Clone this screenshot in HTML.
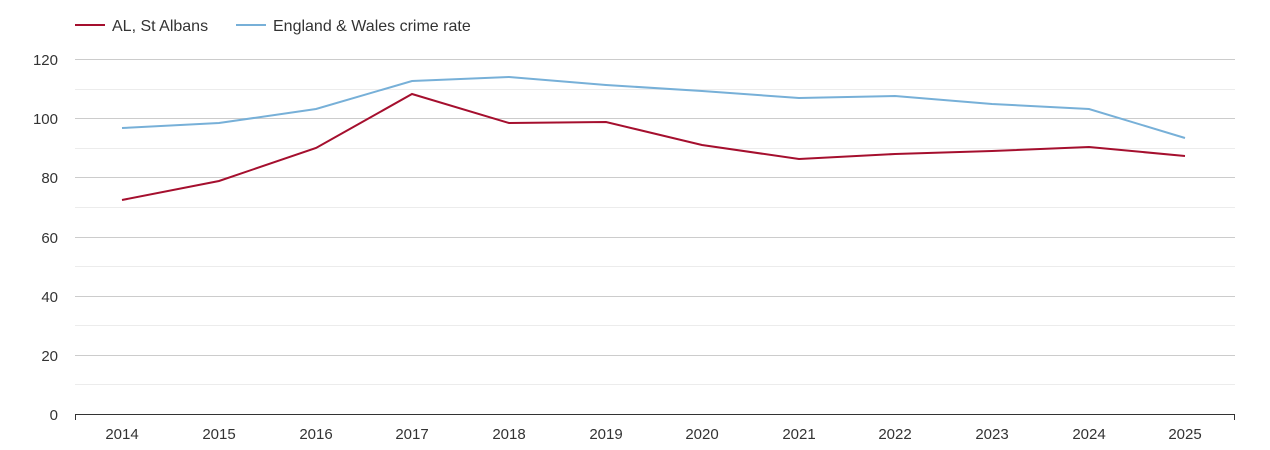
<!DOCTYPE html>
<html><head><meta charset="utf-8"><style>body{margin:0;background:#fff}svg{display:block;font-family:"Liberation Sans",sans-serif}</style></head><body>
<svg width="1270" height="450" viewBox="0 0 1270 450">
<g stroke="#ececec" stroke-width="1">
<line x1="75" x2="1235" y1="89.5" y2="89.5"/><line x1="75" x2="1235" y1="148.5" y2="148.5"/><line x1="75" x2="1235" y1="207.5" y2="207.5"/><line x1="75" x2="1235" y1="266.5" y2="266.5"/><line x1="75" x2="1235" y1="325.5" y2="325.5"/><line x1="75" x2="1235" y1="384.5" y2="384.5"/>
</g>
<g stroke="#cccccc" stroke-width="1">
<line x1="75" x2="1235" y1="59.5" y2="59.5"/><line x1="75" x2="1235" y1="118.5" y2="118.5"/><line x1="75" x2="1235" y1="177.5" y2="177.5"/><line x1="75" x2="1235" y1="237.5" y2="237.5"/><line x1="75" x2="1235" y1="296.5" y2="296.5"/><line x1="75" x2="1235" y1="355.5" y2="355.5"/>
</g>
<line x1="75" x2="1235" y1="414.5" y2="414.5" stroke="#333"/>
<g stroke="#333"><line x1="75.5" x2="75.5" y1="414" y2="420"/><line x1="1234.5" x2="1234.5" y1="414" y2="420"/></g>
<g font-size="15" fill="#333" text-anchor="end">
<text x="58" y="65">120</text><text x="58" y="124">100</text><text x="58" y="183">80</text><text x="58" y="243">60</text><text x="58" y="302">40</text><text x="58" y="361">20</text><text x="58" y="420">0</text>
</g>
<g font-size="15" fill="#333" text-anchor="middle">
<text x="122" y="439">2014</text><text x="219" y="439">2015</text><text x="316" y="439">2016</text><text x="412" y="439">2017</text><text x="509" y="439">2018</text><text x="606" y="439">2019</text><text x="702" y="439">2020</text><text x="799" y="439">2021</text><text x="895" y="439">2022</text><text x="992" y="439">2023</text><text x="1089" y="439">2024</text><text x="1185" y="439">2025</text>
</g>
<polyline fill="none" stroke="#77b0d8" stroke-width="2" points="122,128 219,123 316,109 412,81 509,77 606,85 702,91 799,98 895,96 992,104 1089,109 1185,138"/>
<polyline fill="none" stroke="#a50f2e" stroke-width="2" points="122,200 219,181 316,148 412,94 509,123 606,122 702,145 799,159 895,154 992,151 1089,147 1185,156"/>
<line x1="75" x2="105" y1="25" y2="25" stroke="#a50f2e" stroke-width="2"/>
<text x="112" y="31" font-size="16" fill="#333">AL, St Albans</text>
<line x1="236" x2="266" y1="25" y2="25" stroke="#77b0d8" stroke-width="2"/>
<text x="273" y="31" font-size="16" fill="#333">England &amp; Wales crime rate</text>
</svg>
</body></html>
